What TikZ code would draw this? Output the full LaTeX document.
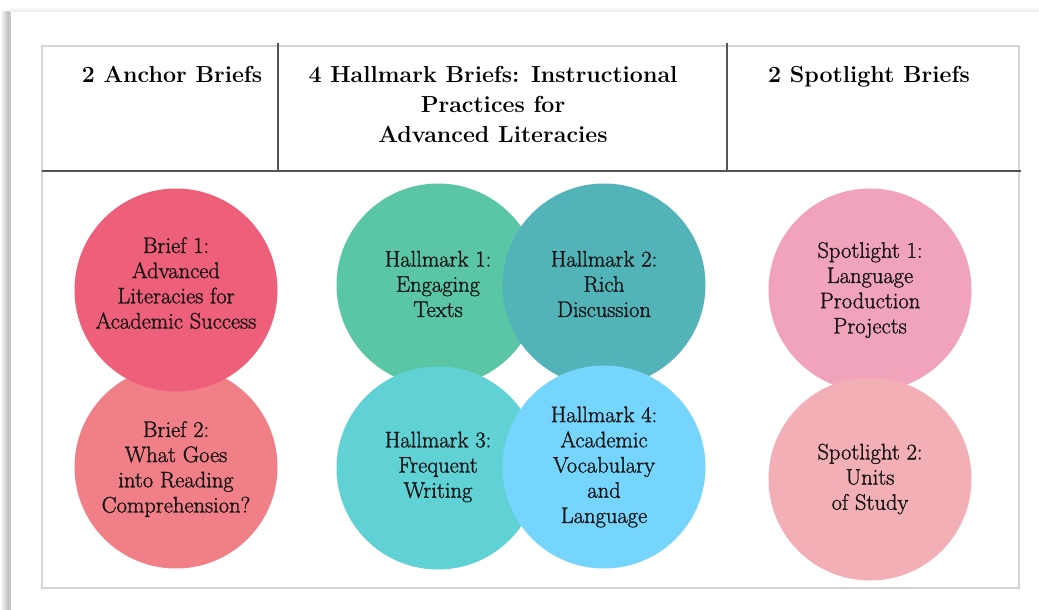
\documentclass[tikz,border=0pt]{standalone}
\usepackage{fontspec}
\setmainfont{Latin Modern Roman}
\newfontfamily\bodyfont{Latin Modern Roman}[RawFeature={embolden=1.2}]
\usetikzlibrary{positioning}
\definecolor{bOne}{HTML}{EE5F79}
\definecolor{bTwo}{HTML}{F07F87}
\definecolor{hOne}{HTML}{5BC6A5}
\definecolor{hTwo}{HTML}{52B4B8}
\definecolor{hThree}{HTML}{60D1D4}
\definecolor{hFour}{HTML}{76D5FD}
\definecolor{sOne}{HTML}{F1A3BB}
\definecolor{sTwo}{HTML}{F3AFB6}
\definecolor{ink}{HTML}{141414}
\definecolor{rule}{HTML}{555555}
\definecolor{frame}{HTML}{D4D4D4}
\tikzset{
  bubble/.style={circle, inner sep=0pt, minimum size=203pt, draw=none},
  bubtext/.style={align=center, inner sep=0pt, text=ink,
     font=\bodyfont\fontsize{22.5}{25.2}\selectfont},
  headtxt/.style={align=center, text=black, font=\fontsize{23.2}{30}\bfseries\selectfont},
  darkrule/.style={draw=rule, line width=1.1pt},
  lightrule/.style={draw=frame, line width=1.4pt}
}
\begin{document}
\begin{tikzpicture}[x=1pt,y=-1pt]
\useasboundingbox (0,0) rectangle (1039,610);
\fill[white] (0,0) rectangle (1039,610);
% card shadow
\shade[left color=white, right color=black!28] (0,12) rectangle (9,610);
\fill[black!22] (9,12) rectangle (11,610);
\shade[top color=white, bottom color=black!8] (9,6) rectangle (1039,12);
\fill[white] (11,12) rectangle (1039,610);
% table frame
\draw[lightrule] (42,46) rectangle (1019,588);
\draw[darkrule] (42,171) -- (1021,171);
\draw[darkrule] (278,43) -- (278,171);
\draw[darkrule] (727,43) -- (727,171);
% headers
\node[headtxt, anchor=base] (h1) at (172,82) {2 Anchor Briefs};
\node[headtxt] (h2) at (493,104) {4 Hallmark Briefs: Instructional\\Practices for\\Advanced Literacies};
\node[headtxt, anchor=base] (h3) at (869,82) {2 Spotlight Briefs};
% anchor briefs
\node[bubble, fill=bTwo] (b2) at (176,467) {};
\node[bubtext] (b2t) at (176,469) {Brief 2:\\What Goes\\into Reading\\Comprehension?};
\node[bubble, fill=bOne] (b1) at (176,290) {};
\node[bubtext] (b1t) at (176,283) {Brief 1:\\Advanced\\Literacies for\\Academic Success};
% hallmarks
\node[bubble, fill=hOne] (m1) at (438,285) {};
\node[bubtext] (m1t) at (438,284) {Hallmark 1:\\Engaging\\Texts};
\node[bubble, fill=hTwo] (m2) at (604,285) {};
\node[bubtext] (m2t) at (604,284) {Hallmark 2:\\Rich\\Discussion};
\node[bubble, fill=hThree] (m3) at (438,468) {};
\node[bubtext] (m3t) at (438,467) {Hallmark 3:\\Frequent\\Writing};
\node[bubble, fill=hFour] (m4) at (604,467) {};
\node[bubtext] (m4t) at (604,467) {Hallmark 4:\\Academic\\Vocabulary\\and\\Language};
% spotlights
\node[bubble, fill=sOne] (s1) at (870,290) {};
\node[bubtext] (s1t) at (870,290) {Spotlight 1:\\Language\\Production\\Projects};
\node[bubble, fill=sTwo] (s2) at (870,479) {};
\node[bubtext] (s2t) at (870,479) {Spotlight 2:\\Units\\of Study};
\end{tikzpicture}
\end{document}
